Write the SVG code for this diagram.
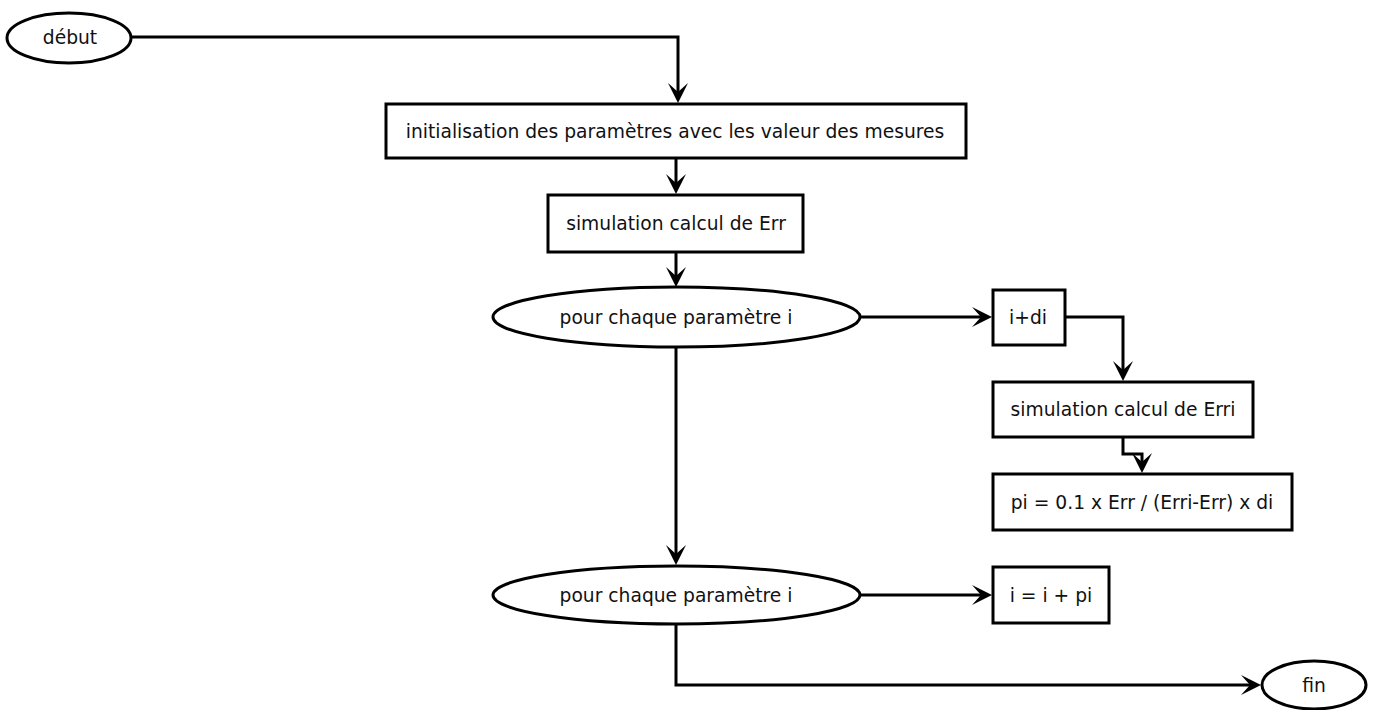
<svg xmlns="http://www.w3.org/2000/svg" width="1373" height="710" viewBox="0 0 1373 710">
<style>
.s{fill:#fff;stroke:#000;stroke-width:3}
.c{fill:none;stroke:#000;stroke-width:3;marker-end:url(#a)}
text{font-family:"DejaVu Sans",sans-serif;font-size:18.7px;fill:#111;text-anchor:middle;dominant-baseline:central}
</style>
<defs>
<marker id="a" markerUnits="userSpaceOnUse" markerWidth="20" markerHeight="20" viewBox="0 0 20 20" refX="9" refY="10" orient="auto">
<path d="M0,0 L20,10 L0,20 L9,10 Z" fill="#000"/>
</marker>
</defs>
<g id="connectors">
<path class="c" d="M131,37 H678 V92"/>
<path class="c" d="M676,158 V183"/>
<path class="c" d="M676,252 V276"/>
<path class="c" d="M860,317 H981"/>
<path class="c" d="M1065,317 H1123 V370"/>
<path class="c" d="M1123,437 V454 H1142 V462"/>
<path class="c" d="M676,347 V554"/>
<path class="c" d="M860,595 H981"/>
<path class="c" d="M676,624 V685 H1250"/>
</g>
<g id="debut"><ellipse class="s" cx="69" cy="38" rx="62" ry="25"/><text x="70" y="37">début</text></g>
<g id="init"><rect class="s" x="386" y="104" width="580" height="54"/><text x="675" y="131">initialisation des paramètres avec les valeur des mesures</text></g>
<g id="sim"><rect class="s" x="548" y="195" width="255" height="57"/><text x="676" y="223">simulation calcul de Err</text></g>
<g id="pour1"><ellipse class="s" cx="676.5" cy="317" rx="183.5" ry="30"/><text x="676" y="317">pour chaque paramètre i</text></g>
<g id="idi"><rect class="s" x="993" y="290" width="72" height="55"/><text x="1028" y="317">i+di</text></g>
<g id="simi"><rect class="s" x="993" y="382" width="260" height="55"/><text x="1123" y="409">simulation calcul de Erri</text></g>
<g id="pi"><rect class="s" x="993" y="474" width="299" height="56"/><text x="1142" y="502">pi = 0.1 x Err / (Erri-Err) x di</text></g>
<g id="pour2"><ellipse class="s" cx="676.5" cy="595" rx="183.5" ry="29"/><text x="676" y="595">pour chaque paramètre i</text></g>
<g id="iipi"><rect class="s" x="993" y="567" width="116" height="56"/><text x="1051" y="595">i = i + pi</text></g>
<g id="fin"><ellipse class="s" cx="1314" cy="685" rx="52" ry="24"/><text x="1314" y="685">fin</text></g>
</svg>
